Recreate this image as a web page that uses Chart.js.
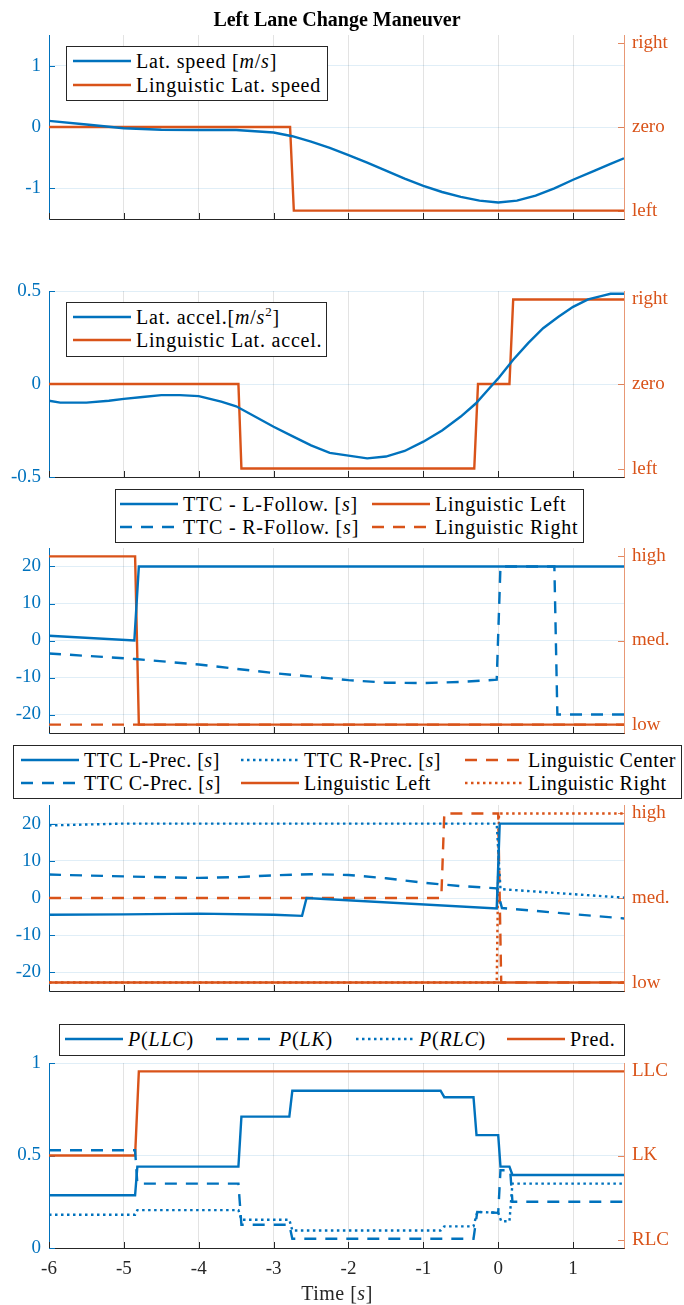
<!DOCTYPE html>
<html>
<head>
<meta charset="utf-8">
<script src="https://cdn.jsdelivr.net/npm/chart.js@4.4.0/dist/chart.umd.min.js"></script>
<style>
  html, body { margin: 0; padding: 0; background: #fff; }
  #page { position: relative; width: 684px; height: 1305px; overflow: hidden;
          font-family: "Liberation Serif", "Times New Roman", serif; }
  #page canvas { position: absolute; left: 0; }
  .box { position: absolute; background: #fff; border: 1px solid #262626; box-sizing: border-box; z-index: 2; }
  .item { position: absolute; z-index: 3; height: 22px; display: flex; align-items: center;
          font-size: 20px; white-space: nowrap; color: #000; letter-spacing: 0.8px; }
  .item.tight { letter-spacing: 0.5px; }
  .item svg { margin-right: 5px; flex: none; }
  .item sup { font-size: 13px; line-height: 0; }
  #title { position: absolute; left: 0; width: 674px; top: 8px; text-align: center;
           font-weight: bold; font-size: 20px; z-index: 3; }
  #xtitle { position: absolute; left: 0; width: 674px; top: 1282px; text-align: center;
            font-size: 20px; color: #262626; z-index: 3; letter-spacing: 0.5px; }
</style>
</head>
<body>
<div id="page">
  <div id="title">Left Lane Change Maneuver</div>
  <div id="xtitle">Time [<i>s</i>]</div>
</div>
<script>
// ---- data ----
const timeTicks = [-6, -5, -4, -3, -2, -1, 0, 1];

// panel 1 : lateral speed
const speedT = [-6, -5.5, -5, -4.5, -4, -3.5, -3, -2.75, -2.5, -2.25, -2, -1.75, -1.5, -1.25, -1, -0.75, -0.5, -0.25, 0, 0.25, 0.5, 0.75, 1, 1.25, 1.5, 1.68];
const speedV = [0.1, 0.04, -0.02, -0.045, -0.05, -0.05, -0.09, -0.15, -0.24, -0.34, -0.46, -0.58, -0.71, -0.84, -0.96, -1.06, -1.14, -1.2, -1.23, -1.2, -1.12, -1.0, -0.86, -0.73, -0.6, -0.51];
const lingSpeedT = [-6, -2.78, -2.73, 1.68];
const lingSpeedV = [0, 0, -1, -1];
const speedTicks = [-1, 0, 1];
const speedLevels = ['left', 'zero', 'right'];

// panel 2 : lateral acceleration
const accelT = [-6, -5.85, -5.5, -5.2, -5, -4.75, -4.5, -4.25, -4, -3.85, -3.7, -3.5, -3.25, -3, -2.75, -2.5, -2.25, -2, -1.75, -1.5, -1.25, -1, -0.75, -0.5, -0.3, -0.1, 0, 0.2, 0.4, 0.6, 0.8, 1.0, 1.2, 1.4, 1.5, 1.68];
const accelV = [-0.09, -0.1, -0.1, -0.09, -0.08, -0.07, -0.06, -0.06, -0.065, -0.08, -0.095, -0.12, -0.175, -0.23, -0.28, -0.33, -0.37, -0.385, -0.4, -0.39, -0.36, -0.31, -0.25, -0.175, -0.105, -0.015, 0.03, 0.13, 0.22, 0.3, 0.36, 0.415, 0.455, 0.475, 0.485, 0.485];
const lingAccelT = [-6, -3.47, -3.43, -0.32, -0.27, 0.15, 0.2, 1.68];
const lingAccelV = [0, 0, -1, -1, 0, 0, 1, 1];
const accelTicks = [-0.5, 0, 0.5];
const accelLevels = ['left', 'zero', 'right'];

// panel 3 : TTC followers
const lFollowT = [-6, -4.86, -4.8, 1.68];
const lFollowV = [1.3, 0, 20, 20];
const rFollowT = [-6, -4.85, -4, -3, -2, -1.5, -1, -0.5, -0.02, 0.03, 0.75, 0.79, 1.68];
const rFollowV = [-3.5, -5, -6.5, -8.8, -10.7, -11.4, -11.5, -11.2, -10.6, 20, 20, -20, -20];
const lingLeft3T = [-6, -4.85, -4.8, 1.68];
const lingLeft3V = [1, 1, -1, -1];
const lingRight3T = [-6, 1.68];
const lingRight3V = [-1, -1];
const ttcTicks = [-20, -10, 0, 10, 20];
const ttcLevels = ['low', 'med.', 'high'];

// panel 4 : TTC preceding
const lPrecT = [-6, -5, -4, -3, -2.62, -2.56, -0.02, 0.02, 1.68];
const lPrecV = [-4.5, -4.4, -4.2, -4.5, -4.8, 0, -2.8, 20, 20];
const cPrecT = [-6, -5, -4, -3.5, -3, -2.5, -2, -1.5, -1, -0.5, -0.02, 0.05, 0.8, 1.68];
const cPrecV = [6.3, 5.8, 5.4, 5.6, 6.1, 6.4, 6.2, 5.3, 4.1, 3.2, 2.6, -2.7, -4, -5.5];
const rPrecT = [-6, -5, -0.02, 0.03, 0.8, 1.68];
const rPrecV = [19.5, 20, 20, 2.4, 1.3, 0.1];
const lingCenter4T = [-6, -0.76, -0.72, 0, 0.04, 1.68];
const lingCenter4V = [0, 0, 1, 1, -1, -1];
const lingLeft4T = [-6, 1.68];
const lingLeft4V = [-1, -1];
const lingRight4T = [-6, -0.02, 0.01, 1.68];
const lingRight4V = [-1, -1, 1, 1];

// panel 5 : maneuver probabilities
const pLLCT = [-6, -4.85, -4.82, -3.47, -3.43, -2.79, -2.75, -0.77, -0.72, -0.33, -0.29, 0.0, 0.03, 0.15, 0.19, 1.68];
const pLLCV = [0.285, 0.285, 0.44, 0.44, 0.71, 0.71, 0.85, 0.85, 0.815, 0.815, 0.61, 0.61, 0.44, 0.44, 0.395, 0.395];
const pLKT = [-6, -4.85, -4.82, -3.47, -3.43, -2.79, -2.75, -0.33, -0.28, 0.0, 0.03, 0.16, 0.19, 1.68];
const pLKV = [0.528, 0.528, 0.348, 0.348, 0.126, 0.126, 0.05, 0.05, 0.195, 0.19, 0.42, 0.42, 0.25, 0.25];
const pRLCT = [-6, -4.85, -4.82, -3.47, -3.43, -2.79, -2.75, -0.77, -0.72, -0.33, -0.28, 0.0, 0.04, 0.15, 0.19, 1.68];
const pRLCV = [0.18, 0.18, 0.205, 0.205, 0.153, 0.153, 0.095, 0.095, 0.117, 0.117, 0.195, 0.19, 0.145, 0.145, 0.348, 0.348];
const predT = [-6, -4.85, -4.8, 1.68];
const predV = [0, 0, 1, 1];
const probTicks = [0, 0.5, 1];
const manLevels = ['RLC', 'LK', 'LLC'];

// ---- style ----
const BLUE = '#0072BD';
const ORANGE = '#D95319';
const FONT = { family: 'Liberation Serif', size: 19 };
const DASH = [12, 9];
const DOT = [2.5, 3.5];
const page = document.getElementById('page');

function pts(t, v) { return t.map((x, i) => ({ x: x, y: v[i] })); }

function line(label, t, v, color, dash, axis) {
  return {
    label: label, data: pts(t, v), borderColor: color, borderWidth: 2.4,
    borderDash: dash || [], yAxisID: axis, order: color === ORANGE ? 2 : 1,
    pointRadius: 0, fill: false, tension: 0
  };
}

// ticks drawn inward, like the original axes
const inwardTicks = {
  id: 'inwardTicks',
  beforeDatasetsDraw(chart) {
    const { ctx, chartArea: a, scales } = chart;
    ctx.save();
    ctx.lineWidth = 1;
    ctx.strokeStyle = '#262626';
    scales.x.ticks.forEach(t => {
      const px = Math.round(scales.x.getPixelForValue(t.value)) + 0.5;
      ctx.beginPath(); ctx.moveTo(px, a.bottom); ctx.lineTo(px, a.bottom - 6); ctx.stroke();
    });
    ctx.strokeStyle = BLUE;
    scales.y.ticks.forEach(t => {
      const py = Math.round(scales.y.getPixelForValue(t.value)) + 0.5;
      ctx.beginPath(); ctx.moveTo(a.left, py); ctx.lineTo(a.left + 6, py); ctx.stroke();
    });
    ctx.strokeStyle = 'rgba(217,83,25,0.7)';
    scales.y1.ticks.forEach(t => {
      const py = Math.round(scales.y1.getPixelForValue(t.value)) + 0.5;
      ctx.beginPath(); ctx.moveTo(a.right, py); ctx.lineTo(a.right - 6, py); ctx.stroke();
    });
    ctx.restore();
  }
};

function panel(cfg) {
  const last = !!cfg.last;
  const top = cfg.top - 12;
  const h = last ? 1305 - top : cfg.height + 24;
  const cv = document.createElement('canvas');
  cv.width = 684; cv.height = h;
  cv.style.top = top + 'px';
  cv.style.width = '684px'; cv.style.height = h + 'px';
  page.appendChild(cv);
  const xh = last ? h - 12 - cfg.height : 0;

  new Chart(cv, {
    type: 'line',
    data: { datasets: cfg.datasets },
    options: {
      responsive: false,
      animation: false,
      layout: { padding: { top: 12, bottom: last ? 0 : 12, left: 0, right: 0 } },
      plugins: { legend: { display: false }, tooltip: { enabled: false } },
      scales: {
        x: {
          type: 'linear', min: -6, max: 1.68,
          afterBuildTicks: s => { s.ticks = timeTicks.map(v => ({ value: v })); },
          afterFit: s => { s.height = xh; s.paddingLeft = 0; s.paddingRight = 0; },
          grid: { color: 'rgba(38,38,38,0.13)', drawTicks: false },
          border: { color: '#262626', width: 1 },
          ticks: { display: last, padding: 10, color: '#262626', font: FONT, callback: v => String(v) }
        },
        y: {
          position: 'left', min: cfg.min, max: cfg.max,
          afterBuildTicks: s => { s.ticks = cfg.ticks.map(v => ({ value: v })); },
          afterFit: s => { s.width = 49; s.paddingTop = 0; s.paddingBottom = 0; },
          grid: { color: 'rgba(0,114,189,0.12)', drawTicks: false },
          border: { color: BLUE, width: 1 },
          ticks: { color: BLUE, padding: 8, font: FONT, callback: v => String(v) }
        },
        y1: {
          position: 'right', min: -1.1, max: 1.1,
          afterBuildTicks: s => { s.ticks = [-1, 0, 1].map(v => ({ value: v })); },
          afterFit: s => { s.width = 60; s.paddingTop = 0; s.paddingBottom = 0; },
          grid: { display: false, drawTicks: false },
          border: { color: 'rgba(217,83,25,0.6)', width: 1 },
          ticks: { color: ORANGE, padding: 8, font: FONT, callback: v => cfg.levels[v + 1] }
        }
      }
    },
    plugins: [inwardTicks]
  });
}

function legendBox(x0, y0, x1, y1) {
  const d = document.createElement('div');
  d.className = 'box';
  d.style.left = x0 + 'px'; d.style.top = y0 + 'px';
  d.style.width = (x1 - x0) + 'px'; d.style.height = (y1 - y0) + 'px';
  page.appendChild(d);
}

function legendItem(x, y, html, color, dash, tight) {
  const d = document.createElement('div');
  d.className = tight ? 'item tight' : 'item';
  d.style.left = x + 'px'; d.style.top = (y - 11) + 'px';
  const da = dash ? ' stroke-dasharray="' + dash.join(' ') + '"' : '';
  d.innerHTML = '<svg width="58" height="22"><line x1="0" y1="11" x2="58" y2="11" stroke="' + color +
    '" stroke-width="2.4"' + da + '/></svg><span>' + html + '</span>';
  page.appendChild(d);
}

panel({
  top: 35, height: 184, min: -1.5, max: 1.5, ticks: speedTicks, levels: speedLevels,
  datasets: [
    line('Lat. speed', speedT, speedV, BLUE, null, 'y'),
    line('Linguistic Lat. speed', lingSpeedT, lingSpeedV, ORANGE, null, 'y1')
  ]
});
panel({
  top: 291, height: 186, min: -0.5, max: 0.5, ticks: accelTicks, levels: accelLevels,
  datasets: [
    line('Lat. accel.', accelT, accelV, BLUE, null, 'y'),
    line('Linguistic Lat. accel.', lingAccelT, lingAccelV, ORANGE, null, 'y1')
  ]
});
panel({
  top: 548, height: 185, min: -25, max: 25, ticks: ttcTicks, levels: ttcLevels,
  datasets: [
    line('TTC - L-Follow.', lFollowT, lFollowV, BLUE, null, 'y'),
    line('TTC - R-Follow.', rFollowT, rFollowV, BLUE, DASH, 'y'),
    line('Linguistic Right', lingRight3T, lingRight3V, ORANGE, DASH, 'y1'),
    line('Linguistic Left', lingLeft3T, lingLeft3V, ORANGE, null, 'y1')
  ]
});
panel({
  top: 805, height: 186, min: -25, max: 25, ticks: ttcTicks, levels: ttcLevels,
  datasets: [
    line('TTC L-Prec.', lPrecT, lPrecV, BLUE, null, 'y'),
    line('TTC C-Prec.', cPrecT, cPrecV, BLUE, DASH, 'y'),
    line('TTC R-Prec.', rPrecT, rPrecV, BLUE, DOT, 'y'),
    line('Linguistic Center', lingCenter4T, lingCenter4V, ORANGE, DASH, 'y1'),
    line('Linguistic Left', lingLeft4T, lingLeft4V, ORANGE, null, 'y1'),
    line('Linguistic Right', lingRight4T, lingRight4V, ORANGE, DOT, 'y1')
  ]
});
panel({
  top: 1063, height: 185, min: 0, max: 1, ticks: probTicks, levels: manLevels, last: true,
  datasets: [
    line('P(LLC)', pLLCT, pLLCV, BLUE, null, 'y'),
    line('P(LK)', pLKT, pLKV, BLUE, DASH, 'y'),
    line('P(RLC)', pRLCT, pRLCV, BLUE, DOT, 'y'),
    line('Pred.', predT, predV, ORANGE, null, 'y1')
  ]
});

// legends
legendBox(66, 46, 328, 101);
legendItem(73, 61, 'Lat. speed [<i>m</i>/<i>s</i>]', BLUE);
legendItem(73, 85, 'Linguistic Lat. speed', ORANGE);

legendBox(66, 302, 327, 357);
legendItem(73, 317, 'Lat. accel.[<i>m</i>/<i>s</i><sup>2</sup>]', BLUE);
legendItem(73, 340, 'Linguistic Lat. accel.', ORANGE);

legendBox(115, 489, 584, 543);
legendItem(120, 504, 'TTC - L-Follow. [<i>s</i>]', BLUE);
legendItem(120, 527, 'TTC - R-Follow. [<i>s</i>]', BLUE, DASH);
legendItem(372, 504, 'Linguistic Left', ORANGE);
legendItem(372, 527, 'Linguistic Right', ORANGE, DASH);

legendBox(13, 745, 682, 799);
legendItem(21, 760, 'TTC L-Prec. [<i>s</i>]', BLUE, null, true);
legendItem(21, 783, 'TTC C-Prec. [<i>s</i>]', BLUE, DASH, true);
legendItem(241, 760, 'TTC R-Prec. [<i>s</i>]', BLUE, DOT, true);
legendItem(241, 783, 'Linguistic Left', ORANGE, null, true);
legendItem(465, 760, 'Linguistic Center', ORANGE, DASH, true);
legendItem(465, 783, 'Linguistic Right', ORANGE, DOT, true);

legendBox(59, 1024, 625, 1056);
legendItem(65, 1039, '<i>P</i>(<i>LLC</i>)', BLUE);
legendItem(216, 1039, '<i>P</i>(<i>LK</i>)', BLUE, DASH);
legendItem(356, 1039, '<i>P</i>(<i>RLC</i>)', BLUE, DOT);
legendItem(507, 1039, 'Pred.', ORANGE);
</script>
</body>
</html>
